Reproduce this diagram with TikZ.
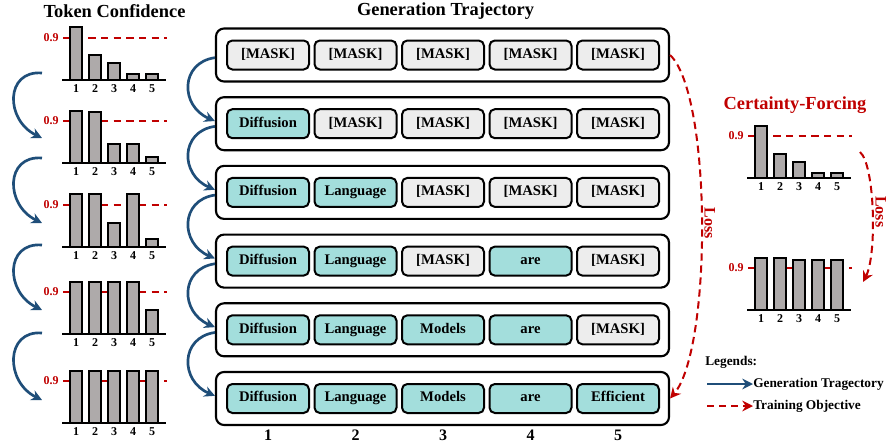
\documentclass[tikz,border=0pt]{standalone}
\usepackage{fontspec}
\setmainfont{Liberation Serif}
\usetikzlibrary{arrows.meta,positioning}

\definecolor{trajblue}{HTML}{1F4E79}
\definecolor{lossred}{HTML}{C00000}
\definecolor{tokteal}{HTML}{A3DEDC}
\definecolor{maskgray}{HTML}{EDEDED}
\definecolor{bargray}{HTML}{AEAAAA}

% confidence bars: #1 left end of axis, #2 axis height, #3 bar heights
\newcommand{\confchart}[3]{
    \draw[lossred, line width=1.5pt, dash pattern=on 5.5pt off 4pt] (#1+1,#2-42) -- (#1+105,#2-42);
    \node[anchor=east, text=lossred, font=\bfseries\fontsize{9}{10}\selectfont, inner sep=0pt] at (#1-3,#2-42) {0.9};
    \foreach \h [count=\i] in {#3}
        \draw[fill=bargray, line width=1.5pt] (#1+19*\i-11,#2) rectangle (#1+19*\i+1,#2-\h);
    \draw[line width=2pt] (#1,#2) -- (#1+104,#2);
    \foreach \i in {1,...,5}
        \node[font=\bfseries\fontsize{9}{10}\selectfont, inner sep=0pt] at (#1+19*\i-5,#2+9) {\i};
}

\begin{document}
\begin{tikzpicture}[x=0.75pt, y=-0.75pt,
    title/.style={font=\bfseries\fontsize{13.8}{15}\selectfont, inner sep=0pt},
    rowbox/.style={draw, line width=1.6pt, rounded corners=6pt, fill=white,
        minimum width=339.75pt, minimum height=39.75pt, inner sep=0pt},
    tok/.style={draw, line width=1.5pt, rounded corners=4pt, inner sep=0pt,
        minimum width=61.5pt, minimum height=21.75pt, text height=7.6pt, text depth=2.4pt,
        font=\bfseries\fontsize{11}{12}\selectfont},
    tokmask/.style={fill=maskgray},
    tokword/.style={fill=tokteal},
    trajarrow/.style={trajblue, line width=2pt, -{Stealth[length=8pt, width=8pt]}},
    lossarrow/.style={lossred, line width=1.5pt, dash pattern=on 5.5pt off 3.5pt, -{Stealth[length=8pt, width=8pt]}},
    losslabel/.style={text=lossred, font=\bfseries\fontsize{12}{13}\selectfont, anchor=south, rotate=-90, inner sep=1.5pt},
    legtext/.style={font=\bfseries\fontsize{10}{11}\selectfont, inner sep=0pt}]
    \useasboundingbox (0,0) rectangle (889,446);

    % Titles
    \node[title] (ttok) at (114.5,11) {Token Confidence};
    \node[title] (tgen) at (445.5,11) {Generation Trajectory};
    \node[title, text=lossred] (tcert) at (795,105) {Certainty-Forcing};

    % Token confidence per step
    \confchart{62}{80}{53,25,17,6,6}
    \confchart{62}{163}{52,51,19,19,6}
    \confchart{62}{247}{53,53,24,53,8}
    \confchart{62}{334}{52,52,52,52,24}
    \confchart{62}{423}{52,52,52,52,52}

    % Arrows between the charts
    \foreach \i/\ys/\ye in {1/73/138, 2/158/223, 3/245/310, 4/333/400} {
        \coordinate (cs\i) at (42,\ys);
        \coordinate (ce\i) at (42,\ye);
        \draw[trajarrow] (cs\i) .. controls +(-37,-3) and +(-37,-18) .. (ce\i);
    }

    % Generation trajectory rows
    \foreach \r in {1,...,6}
        \node[rowbox] (r\r) at (442.5,{55+68.7*(\r-1)}) {};

    \foreach \s/\w [count=\j] in {tokmask/[MASK], tokmask/[MASK], tokmask/[MASK], tokmask/[MASK], tokmask/[MASK]}
        \node[tok,\s] (t1-\j) at ({268+87.5*(\j-1)},55) {\w};
    \foreach \s/\w [count=\j] in {tokword/Diffusion, tokmask/[MASK], tokmask/[MASK], tokmask/[MASK], tokmask/[MASK]}
        \node[tok,\s] (t2-\j) at ({268+87.5*(\j-1)},123.7) {\w};
    \foreach \s/\w [count=\j] in {tokword/Diffusion, tokword/Language, tokmask/[MASK], tokmask/[MASK], tokmask/[MASK]}
        \node[tok,\s] (t3-\j) at ({268+87.5*(\j-1)},192.4) {\w};
    \foreach \s/\w [count=\j] in {tokword/Diffusion, tokword/Language, tokmask/[MASK], tokword/are, tokmask/[MASK]}
        \node[tok,\s] (t4-\j) at ({268+87.5*(\j-1)},261.1) {\w};
    \foreach \s/\w [count=\j] in {tokword/Diffusion, tokword/Language, tokword/Models, tokword/are, tokmask/[MASK]}
        \node[tok,\s] (t5-\j) at ({268+87.5*(\j-1)},329.8) {\w};
    \foreach \s/\w [count=\j] in {tokword/Diffusion, tokword/Language, tokword/Models, tokword/are, tokword/Efficient}
        \node[tok,\s] (t6-\j) at ({268+87.5*(\j-1)},398.5) {\w};

    % Position numbers
    \foreach \j in {1,...,5}
        \node[font=\bfseries\fontsize{12}{13}\selectfont, inner sep=0pt] (n\j) at (t6-\j |- 0,435) {\j};

    % Steps of the trajectory
    \foreach \a [evaluate=\a as \b using int(\a+1)] in {1,...,5}
        \draw[trajarrow] ([yshift=-2pt]r\a.west) .. controls +(-35,5) and +(-35,-15) .. ([yshift=2pt]r\b.west);

    % Loss from first to last row
    \draw[lossarrow] (r1.east) .. controls +(42,40) and +(42,-50) .. (r6.east)
        node[losslabel, pos=0.5] {Loss};

    % Certainty-forcing charts
    \confchart{747}{178}{52,24,16,5,5}
    \confchart{747}{310}{52,52,50,50,50}
    \coordinate (fs) at (860,152);
    \coordinate (fe) at (863,282);
    \draw[lossarrow] (fs) .. controls +(15,13) and +(14,-27) .. (fe)
        node[losslabel, pos=0.5] {Loss};

    % Legend
    \node[legtext, anchor=west] (leg) at (705,362) {Legends:};
    \node[legtext, anchor=west] (lg1) at (753,384) {Generation Tragectory};
    \node[legtext, anchor=west] (lg2) at (753,406) {Training Objective};
    \coordinate (l1s) at (707,384);
    \coordinate (l2s) at (707,406);
    \draw[trajarrow] (l1s) -- (lg1.west);
    \draw[lossarrow] (l2s) -- (lg2.west);
\end{tikzpicture}
\end{document}
